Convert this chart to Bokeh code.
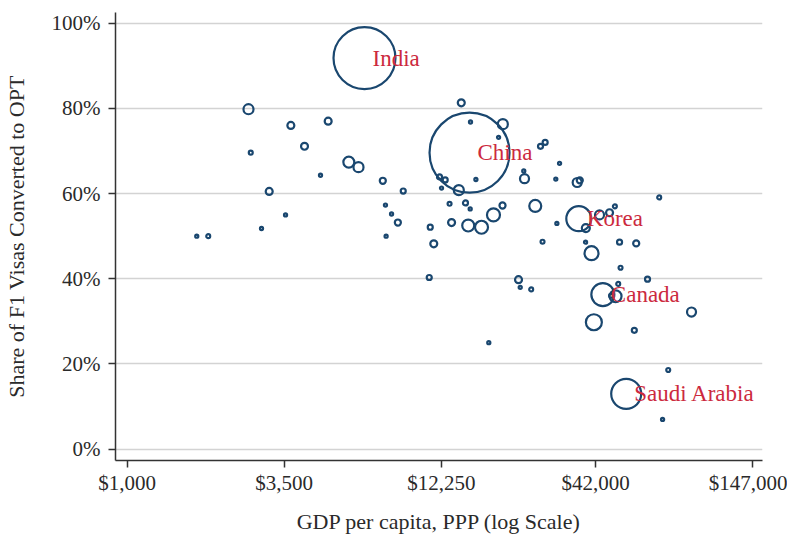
import numpy as np
from bokeh.plotting import figure
from bokeh.models import (FixedTicker, NumeralTickFormatter, PrintfTickFormatter,
                          Range1d, ColumnDataSource, LabelSet)
from bokeh.embed import file_html
from bokeh.resources import INLINE

# ---------------- data ----------------
country = ["India", "China", "Korea", "Canada", "Saudi Arabia"] + [""] * 73

gdp_per_capita = [6640, 15350, 36700, 44460, 53570,
                  2632, 2680, 3690, 4970, 4115, 5860, 6330, 4675, 3105, 3537, 2920, 1742, 1909,
                  7685, 7850, 8240, 8665, 7890,
                  14370, 15470, 20020, 19350, 27040, 28060, 31480, 23660, 23800, 30550,
                  9045, 12080, 12640, 12275, 14090, 16150,
                  13090, 14860, 15430, 19970, 18580, 25930,
                  11220, 13300, 15190, 16890, 30810, 11540, 27480,
                  11130, 22690, 23000, 25100, 17900,
                  36230, 36990, 69700, 48940, 43300, 46900, 38820, 38730, 50800, 58020,
                  40620, 51200, 63500, 50260, 49200, 47470, 90200, 41390, 57150, 74900, 71600]

opt_share = [91.8, 69.6, 54.1, 36.3, 13.0,
             79.8, 69.6, 76.0, 77.0, 71.1, 67.4, 66.2, 64.3, 60.5, 55.0, 51.8, 50.0, 50.0,
             63.0, 57.3, 55.2, 53.2, 50.0,
             81.3, 76.8, 76.3, 73.2, 71.1, 72.0, 67.1, 65.3, 63.5, 63.4,
             60.6, 63.9, 63.2, 61.3, 60.8, 63.3,
             57.6, 57.8, 56.4, 57.2, 55.0, 57.1,
             52.1, 53.2, 52.5, 52.1, 53.0, 48.2, 48.7,
             40.3, 39.8, 38.0, 37.5, 25.0,
             62.6, 63.1, 59.1, 57.0, 55.0, 55.5, 51.9, 48.6, 48.6, 48.3,
             46.0, 42.6, 39.9, 38.8, 35.9, 36.0, 32.2, 29.8, 27.9, 18.6, 7.0]

# number of F1 students (thousands), drives bubble area
f1_students = [198, 330, 32.2, 27.3, 46.4,
               5.2, 0.8, 2.5, 2.5, 2.5, 6.2, 5.2, 0.5, 2.5, 0.5, 0.5, 0.5, 0.8,
               1.9, 0.5, 0.5, 1.9, 0.5,
               2.5, 0.5, 5.2, 0.5, 1.3, 1.3, 0.5, 0.5, 4.2, 0.5,
               1.3, 1.3, 1.3, 0.5, 5.2, 0.5,
               0.8, 1.3, 0.5, 1.9, 8.7, 7.4,
               1.3, 2.5, 7.4, 8.7, 0.5, 2.5, 0.8,
               1.3, 2.5, 0.5, 0.8, 0.5,
               4.2, 1.9, 0.8, 0.8, 4.2, 2.5, 3.3, 0.5, 1.3, 1.9,
               10.1, 0.8, 1.3, 0.8, 7.4, 0.8, 4.2, 13.2, 1.3, 0.8, 0.5]

x_ticks = [1000, 3500, 12250, 42000, 147000]
y_ticks = [0, 20, 40, 60, 80, 100]

# ---------------- styling ----------------
NAVY = "#1a476f"
RED = "#cc2a3e"
FONT = "Liberation Serif"
TXT = "#2a2a2a"

size_px = 80 * np.sqrt(np.array(f1_students) / 330.0)
src = ColumnDataSource(dict(x=gdp_per_capita, y=opt_share, s=size_px))

lab_idx = [i for i, c in enumerate(country) if c]
lab_src = ColumnDataSource(dict(x=[gdp_per_capita[i] for i in lab_idx],
                                y=[opt_share[i] for i in lab_idx],
                                t=[country[i] for i in lab_idx]))

p = figure(frame_width=647, frame_height=448, x_axis_type="log",
           x_range=Range1d(911, 158900), y_range=Range1d(-2.65, 102.5),
           output_backend="svg", toolbar_location=None,
           min_border_left=108, min_border_right=25, min_border_top=12, min_border_bottom=71)
p.outline_line_color = None
p.background_fill_color = "white"

p.scatter("x", "y", size="s", source=src, marker="circle", fill_color=None,
          line_color=NAVY, line_width=2.2)

labels = LabelSet(x="x", y="y", text="t", source=lab_src, x_offset=8, y_offset=0,
                  text_baseline="middle", text_align="left", text_color=RED,
                  text_font=FONT, text_font_size="23px")
p.add_layout(labels)

p.xaxis.ticker = FixedTicker(ticks=x_ticks)
p.xaxis.formatter = NumeralTickFormatter(format="$0,0")
p.yaxis.ticker = FixedTicker(ticks=y_ticks)
p.yaxis.formatter = PrintfTickFormatter(format="%d%%")
p.ygrid.ticker = FixedTicker(ticks=y_ticks)
p.xgrid.grid_line_color = None
p.ygrid.grid_line_color = "#d3d3d3"
p.ygrid.grid_line_width = 1.5

for ax in (p.xaxis, p.yaxis):
    ax.axis_line_color = "#333333"
    ax.axis_line_width = 1.5
    ax.major_tick_line_color = "#333333"
    ax.major_tick_line_width = 1.5
    ax.major_tick_out = 7
    ax.major_tick_in = 0
    ax.minor_tick_line_color = None
    ax.major_label_text_font = FONT
    ax.major_label_text_font_size = "21px"
    ax.major_label_text_color = TXT
    ax.axis_label_text_font = FONT
    ax.axis_label_text_font_size = "22px"
    ax.axis_label_text_font_style = "normal"
    ax.axis_label_text_color = TXT

p.xaxis.axis_label = "GDP per capita, PPP (log Scale)"
p.yaxis.axis_label = "Share of F1 Visas Converted to OPT"
p.yaxis.major_label_standoff = 8
p.xaxis.major_label_standoff = 3
p.yaxis.axis_label_standoff = 20
p.xaxis.axis_label_standoff = 11

open("out.html", "w").write(file_html(p, INLINE))
